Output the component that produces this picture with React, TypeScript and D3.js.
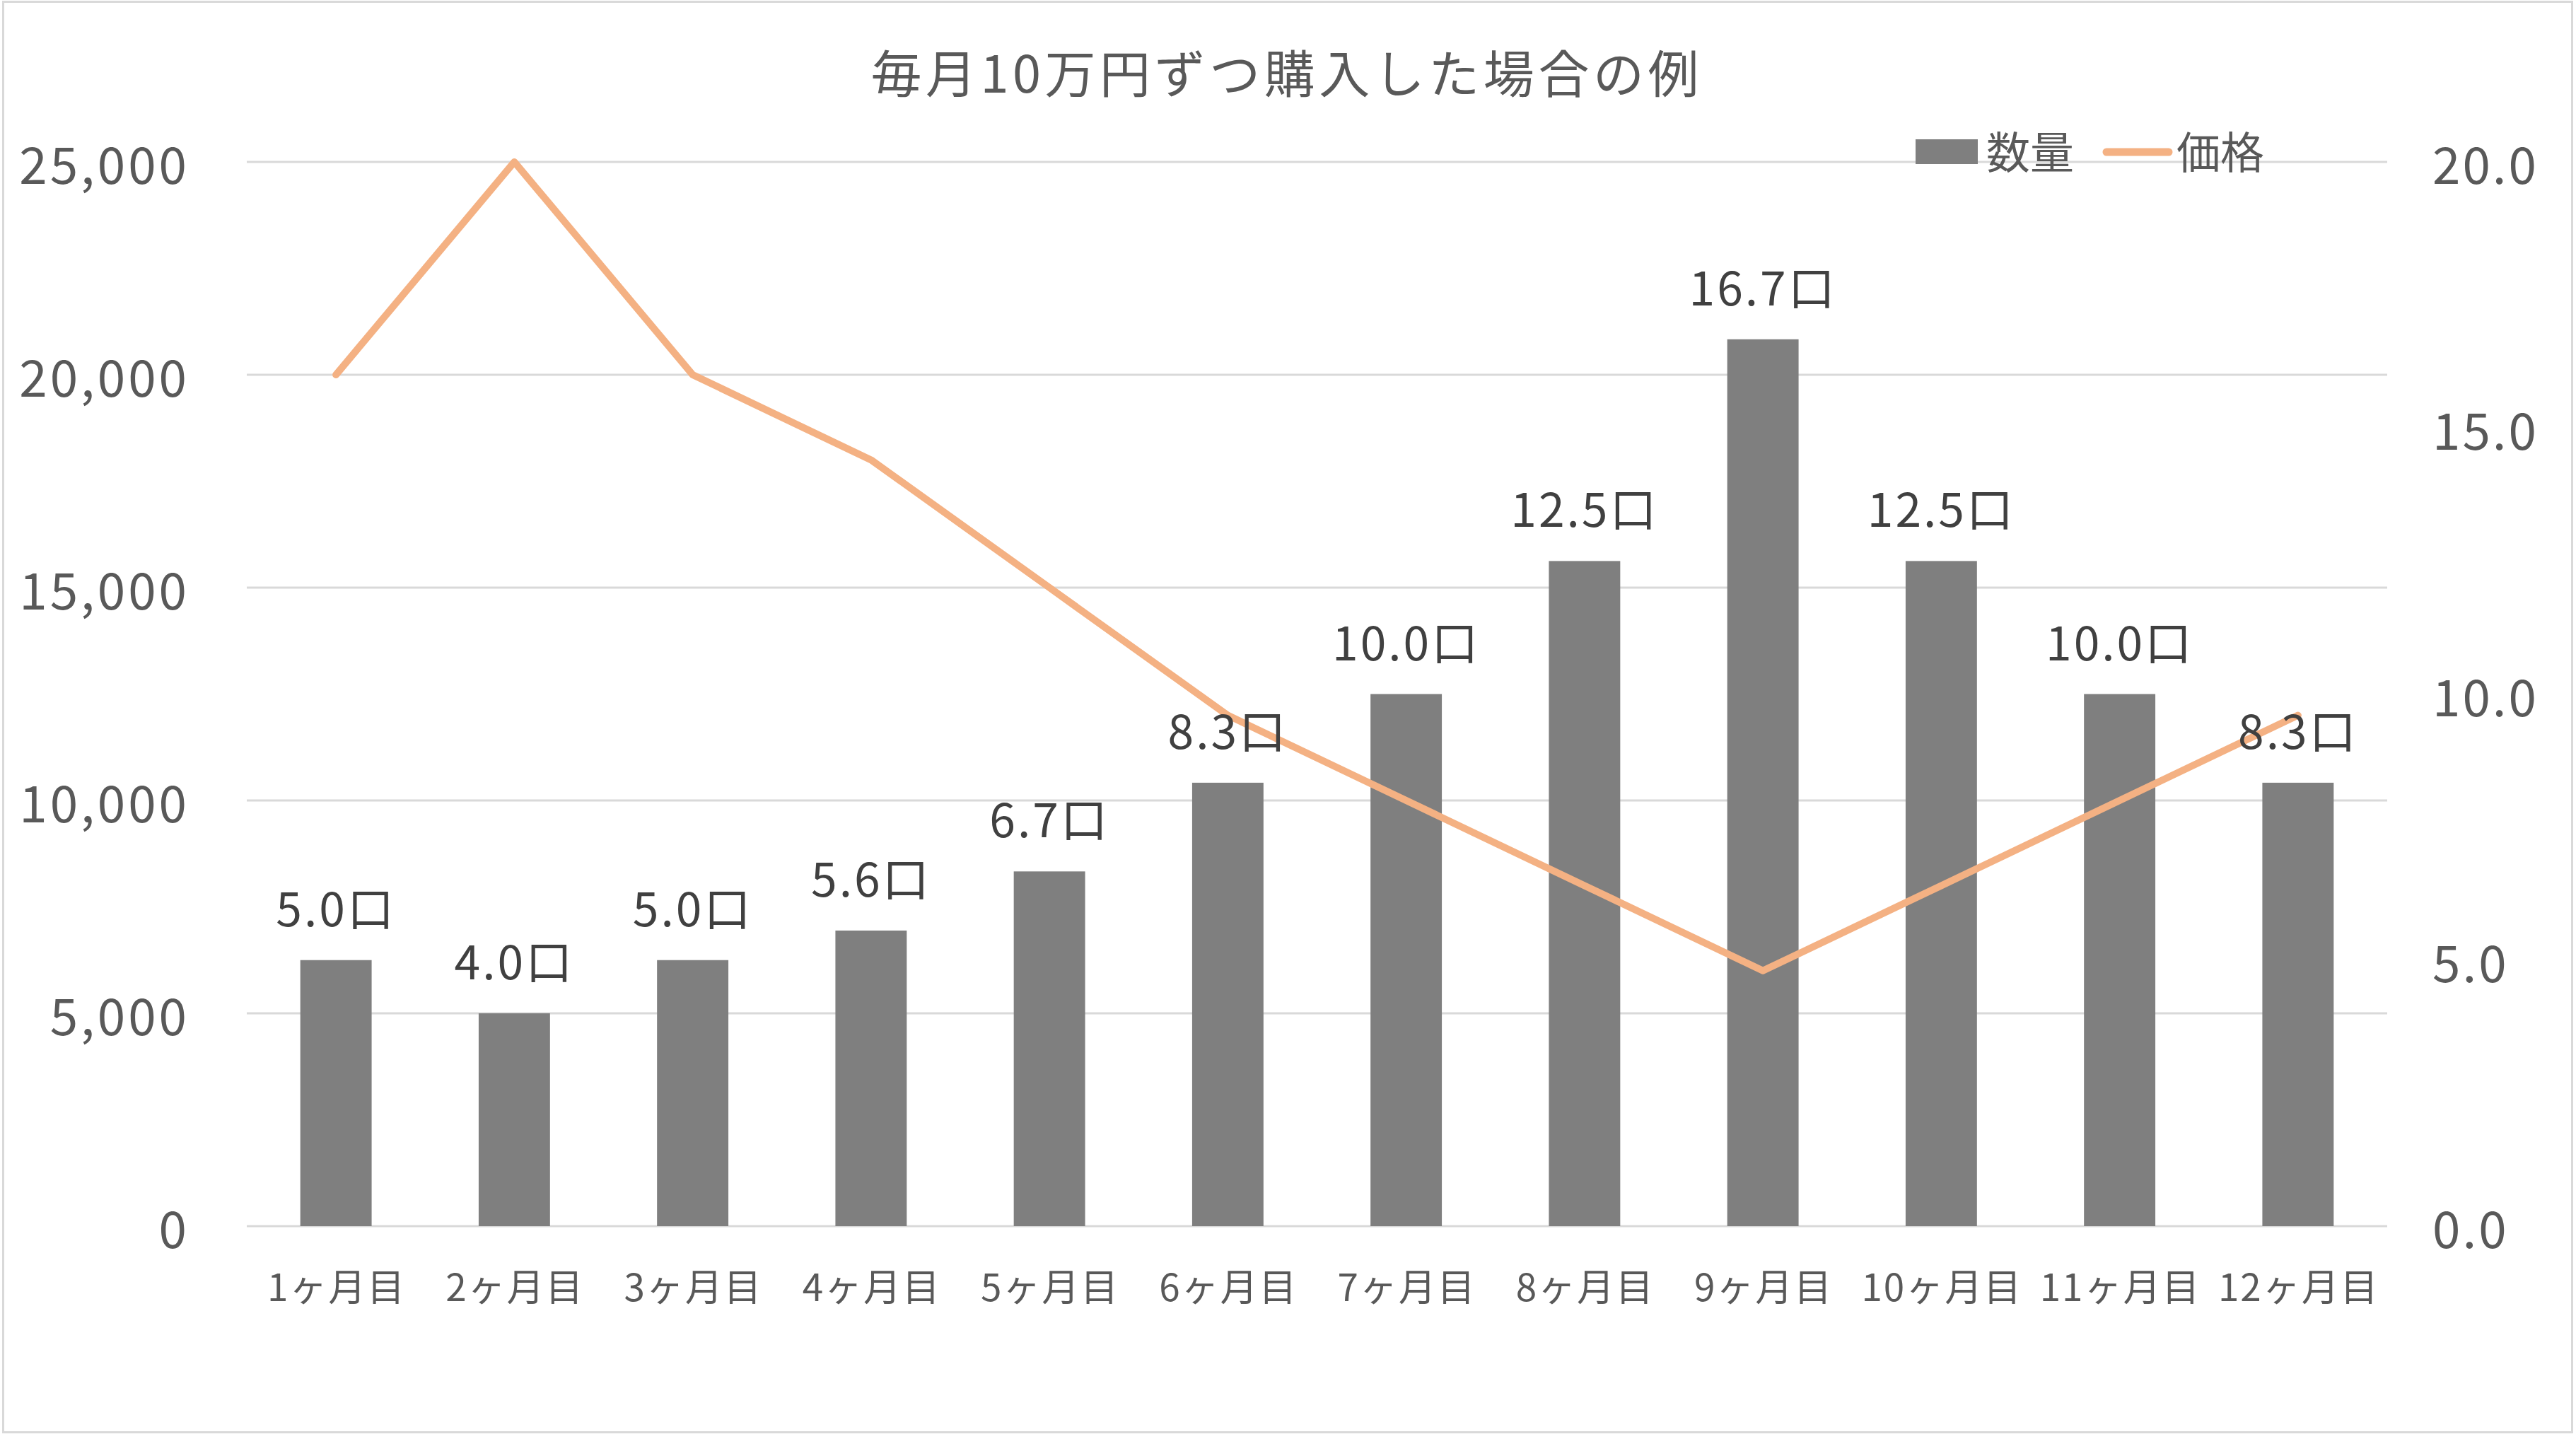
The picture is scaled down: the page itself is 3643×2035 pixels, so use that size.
import React from "react";
import * as d3 from "d3";

const TITLE = "毎月10万円ずつ購入した場合の例";
const categories = ["1ヶ月目", "2ヶ月目", "3ヶ月目", "4ヶ月目", "5ヶ月目", "6ヶ月目", "7ヶ月目", "8ヶ月目", "9ヶ月目", "10ヶ月目", "11ヶ月目", "12ヶ月目"];
const quantity = [6250, 5000, 6250, 6944, 8333, 10417, 12500, 15625, 20833, 15625, 12500, 10417];
const quantityLabels = [5.0, 4.0, 5.0, 5.6, 6.7, 8.3, 10.0, 12.5, 16.7, 12.5, 10.0, 8.3];
const price = [16, 20, 16, 14.4, 12, 9.6, 8, 6.4, 4.8, 6.4, 8, 9.6];
const leftTicks = [0, 5000, 10000, 15000, 20000, 25000];
const rightTicks = [0, 5, 10, 15, 20];
const seriesNames = ["数量", "価格"];

const W = 3643;
const H = 2035;
const FONT = "'Noto Sans CJK JP', 'Noto Sans', sans-serif";

export default function App() {
  const plot = { left: 349, right: 3376, top: 229, bottom: 1734 };
  const x = d3.scaleBand<string>().domain(categories).range([plot.left, plot.right]).paddingInner(0.6).paddingOuter(0.3);
  const yL = d3.scaleLinear().domain([0, 25000]).range([plot.bottom, plot.top]);
  const yR = d3.scaleLinear().domain([0, 20]).range([plot.bottom, plot.top]);
  const line = d3
    .line<number>()
    .x((_, i) => (x(categories[i]) as number) + x.bandwidth() / 2)
    .y((d) => yR(d));
  const fmtL = d3.format(",");
  const fmtR = d3.format(".1f");

  return (
    <svg
      width={W}
      height={H}
      style={{ position: "absolute", left: 0, top: 0, background: "#fff" }}
      fontFamily={FONT}
    >
      <rect x={0} y={0} width={W} height={H} fill="#fff" />
      <rect x={4.5} y={2.5} width={W - 10} height={H - 12} fill="none" stroke="#D9D9D9" strokeWidth={3} />
      <text
        x={1817}
        y={99}
        textAnchor="middle"
        dominantBaseline="central"
        fontSize={72}
        fill="#595959"
        textLength={1171}
        lengthAdjust="spacing"
      >
        {TITLE}
      </text>
      {leftTicks.map((t) => (
        <line key={"g" + t} x1={plot.left} x2={plot.right} y1={yL(t)} y2={yL(t)} stroke="#D9D9D9" strokeWidth={3} />
      ))}
      {leftTicks.map((t) => (
        <text key={"l" + t} x={268} y={yL(t)} textAnchor="end" dominantBaseline="central" fontSize={71} letterSpacing={4} fill="#595959">
          {fmtL(t)}
        </text>
      ))}
      {rightTicks.map((t) => (
        <text key={"r" + t} x={3440} y={yR(t)} textAnchor="start" dominantBaseline="central" fontSize={71} letterSpacing={3} fill="#595959">
          {fmtR(t)}
        </text>
      ))}
      {quantity.map((v, i) => (
        <rect
          key={"b" + i}
          x={x(categories[i])}
          y={yL(v)}
          width={x.bandwidth()}
          height={yL(0) - yL(v)}
          fill="#7F7F7F"
        />
      ))}
      <path d={line(price) || ""} fill="none" stroke="#F4B183" strokeWidth={10} strokeLinejoin="round" strokeLinecap="round" />
      {quantity.map((v, i) => (
        <text
          key={"bl" + i}
          x={(x(categories[i]) as number) + x.bandwidth() / 2}
          y={yL(v) - 48}
          textAnchor="middle"
          fontSize={66}
          letterSpacing={3}
          fill="#404040"
        >
          {fmtR(quantityLabels[i]) + "口"}
        </text>
      ))}
      {categories.map((c) => (
        <text
          key={"c" + c}
          x={(x(c) as number) + x.bandwidth() / 2 + 1}
          y={1817}
          textAnchor="middle"
          dominantBaseline="central"
          fontSize={53}
          letterSpacing={2}
          fill="#595959"
        >
          {c}
        </text>
      ))}
      <rect x={2709} y={197} width={88} height={35} fill="#7F7F7F" />
      <text x={2809} y={212} dominantBaseline="central" fontSize={62} fill="#595959">
        {seriesNames[0]}
      </text>
      <line x1={2979} x2={3067} y1={215} y2={215} stroke="#F4B183" strokeWidth={11} strokeLinecap="round" />
      <text x={3078} y={212} dominantBaseline="central" fontSize={62} fill="#595959">
        {seriesNames[1]}
      </text>
    </svg>
  );
}
